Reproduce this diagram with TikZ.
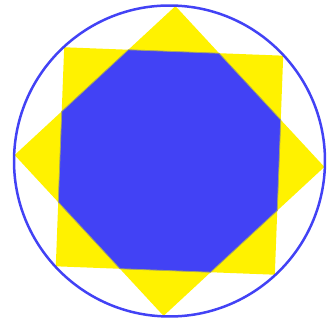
\documentclass[tikz,border=0pt]{standalone}
\definecolor{myblue}{RGB}{66,66,245}
\definecolor{edgegray}{RGB}{165,165,100}
\begin{document}
\begin{tikzpicture}[x=1pt,y=1pt]
\useasboundingbox (0,0) rectangle (333,320);
\begin{scope}[shift={(169.5,159)}, rotate=-2.2]
\fill[yellow] (90:155) -- (180:155) -- (270:155) -- (0:155) -- cycle;
\fill[yellow] (45:155) -- (135:155) -- (225:155) -- (315:155) -- cycle;
\filldraw[fill=myblue, draw=edgegray, line width=0.8] (22.5:118.6) -- (67.5:118.6) -- (112.5:118.6) -- (157.5:118.6) -- (202.5:118.6) -- (247.5:118.6) -- (292.5:118.6) -- (337.5:118.6) -- cycle;
\draw[myblue, line width=2.5] (0,0) circle (155.5);
\end{scope}
\end{tikzpicture}
\end{document}
